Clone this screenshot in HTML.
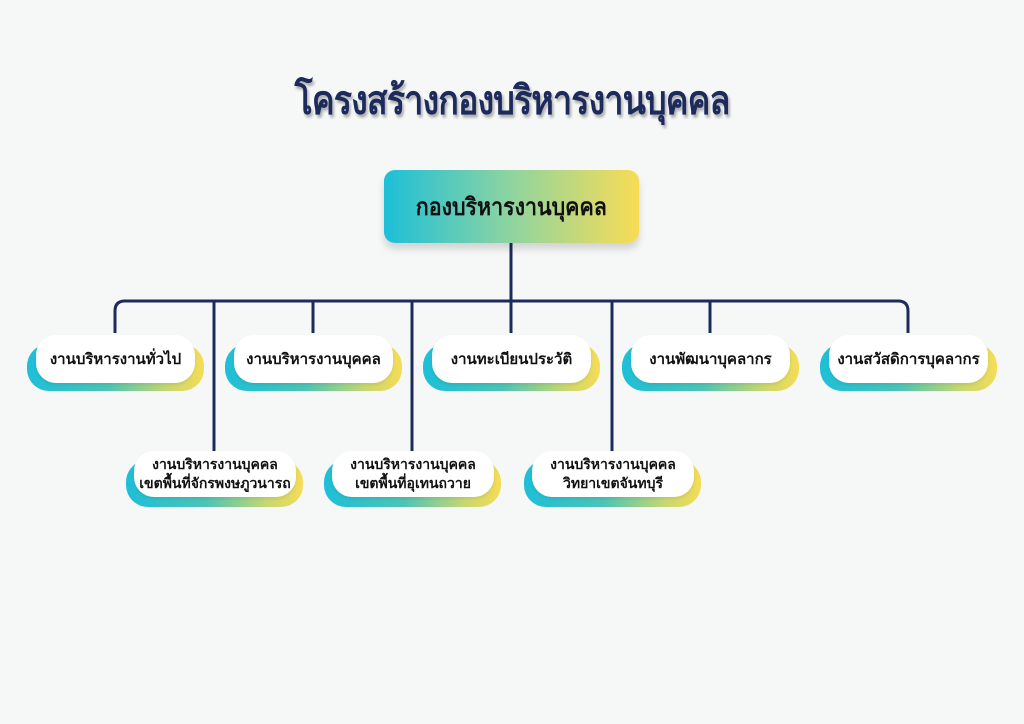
<!DOCTYPE html>
<html><head><meta charset="utf-8"><style>
body{margin:0;width:1024px;height:724px;background:#f6f8f8;position:relative;overflow:hidden;font-family:"Liberation Sans","DejaVu Sans",sans-serif;}
.t{position:absolute;left:0;width:1024px;top:68px;text-align:center;font-size:40px;font-weight:bold;color:#1d2a5c;text-shadow:2px 3px 3px rgba(0,0,0,.3);letter-spacing:-1px;transform:scaleX(0.85)}
.top{position:absolute;left:384px;top:170px;width:255px;height:73px;border-radius:11px;background:linear-gradient(90deg,#1dbfd8,#8fd4a0 50%,#f8dc55);box-shadow:0 6px 8px rgba(0,0,0,.15);display:flex;align-items:center;justify-content:center;font-size:24px;font-weight:bold;color:#111}
.top span{display:inline-block;transform:scaleX(0.89)}
.bk{position:absolute;border-radius:22px;background:linear-gradient(90deg,#1dbfd8,#4cc4b6 45%,#c8d870 80%,#f6dc55)}
.w{position:absolute;border-radius:20px;background:#fff;display:flex;align-items:center;justify-content:center;text-align:center;font-weight:bold;color:#111;font-size:15px;line-height:19px;box-shadow:0 2px 3px rgba(0,0,0,.08)}
</style></head><body>
<div class="t">โครงสร้างกองบริหารงานบุคคล</div>
<svg width="1024" height="724" style="position:absolute;left:0;top:0">
<g fill="none" stroke="#1d2a5c" stroke-width="3">
<path d="M511 243V301"/>
<path d="M115 333V311Q115 301 125 301H898Q908 301 908 311V333"/>
<path d="M313 301V333M710 301V333M511 301V333M214 301V452M412 301V452M612 301V452"/>
</g></svg>
<div class="top"><span>กองบริหารงานบุคคล</span></div>

<div class="bk" style="left:27px;top:344px;width:177px;height:47px"></div>
<div class="w" style="left:36px;top:335px;width:159px;height:48px">งานบริหารงานทั่วไป</div>
<div class="bk" style="left:225px;top:344px;width:177px;height:47px"></div>
<div class="w" style="left:234px;top:335px;width:159px;height:48px">งานบริหารงานบุคคล</div>
<div class="bk" style="left:423px;top:344px;width:177px;height:47px"></div>
<div class="w" style="left:432px;top:335px;width:159px;height:48px">งานทะเบียนประวัติ</div>
<div class="bk" style="left:622px;top:344px;width:177px;height:47px"></div>
<div class="w" style="left:631px;top:335px;width:159px;height:48px">งานพัฒนาบุคลากร</div>
<div class="bk" style="left:820px;top:344px;width:177px;height:47px"></div>
<div class="w" style="left:829px;top:335px;width:159px;height:48px">งานสวัสดิการบุคลากร</div>

<div class="bk" style="left:126px;top:460px;width:177px;height:47px"></div>
<div class="w" style="left:134px;top:451px;width:162px;height:46px;font-size:14px">งานบริหารงานบุคคล<br>เขตพื้นที่จักรพงษภูวนารถ</div>
<div class="bk" style="left:324px;top:460px;width:177px;height:47px"></div>
<div class="w" style="left:332px;top:451px;width:162px;height:46px;font-size:14px">งานบริหารงานบุคคล<br>เขตพื้นที่อุเทนถวาย</div>
<div class="bk" style="left:524px;top:460px;width:177px;height:47px"></div>
<div class="w" style="left:532px;top:451px;width:162px;height:46px;font-size:14px">งานบริหารงานบุคคล<br>วิทยาเขตจันทบุรี</div>
</body></html>
